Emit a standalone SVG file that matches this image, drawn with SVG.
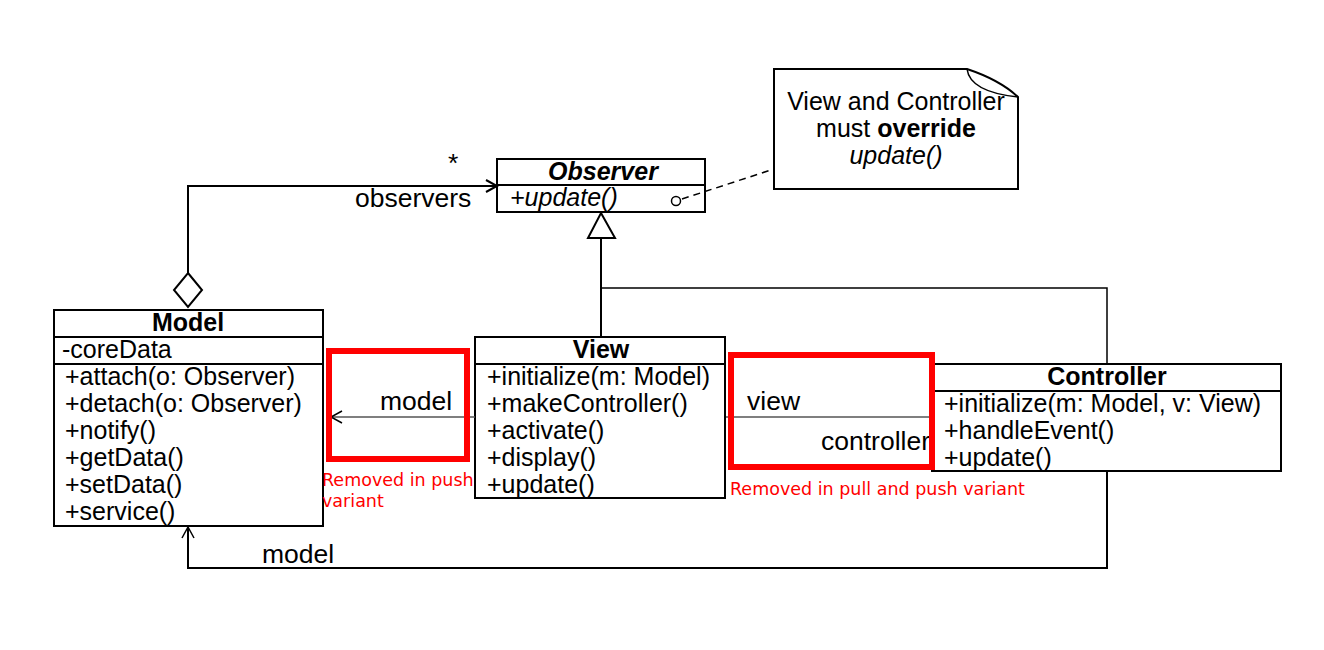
<svg xmlns="http://www.w3.org/2000/svg" width="1324" height="650" viewBox="0 0 1324 650">
<style>
.box{fill:#fff;stroke:#000;stroke-width:2}
.ln{fill:none;stroke:#000;stroke-width:2}
.thin{fill:none;stroke:#555;stroke-width:1.5}
.red{fill:none;stroke:#f00;stroke-width:6}
text{font-family:"Liberation Sans",Arial,sans-serif;fill:#000}
.m{font-size:25px}
.t{font-size:25px;font-weight:bold;text-anchor:middle}
.lb{font-size:26.5px}
.rt{font-family:"DejaVu Sans",sans-serif;font-size:17.5px;fill:#f00}
</style>
<rect width="1324" height="650" fill="#fff"/>
<g id="observer">
<rect class="box" x="497" y="159" width="208" height="53"/>
<line class="ln" x1="497" y1="185" x2="705" y2="185"/>
<text class="t" x="603" y="180" font-style="italic">Observer</text>
<text class="m" x="510" y="206" font-style="italic">+update()</text>
</g>
<g id="note">
<path class="box" d="M774,69 H967 Q1000,80 1018,97 V189 H774 Z"/>
<path class="ln" d="M967,69 Q970,92 1018,97" style="stroke-width:1.5"/>
<text class="m" x="896" y="110" text-anchor="middle">View and Controller</text>
<text class="m" x="896" y="137" text-anchor="middle">must <tspan font-weight="bold">override</tspan></text>
<text class="m" x="896" y="164" text-anchor="middle" font-style="italic">update()</text>
</g>
<g id="model">
<rect class="box" x="54" y="310" width="269" height="216"/>
<line class="ln" x1="54" y1="337" x2="323" y2="337"/>
<line class="ln" x1="54" y1="364" x2="323" y2="364"/>
<text class="t" x="188" y="331">Model</text>
<text class="m" x="62" y="358">-coreData</text>
<text class="m" x="65" y="385">+attach(o: Observer)</text>
<text class="m" x="65" y="412">+detach(o: Observer)</text>
<text class="m" x="65" y="439">+notify()</text>
<text class="m" x="65" y="466">+getData()</text>
<text class="m" x="65" y="493">+setData()</text>
<text class="m" x="65" y="520">+service()</text>
</g>
<g id="view">
<rect class="box" x="475" y="337" width="250" height="161"/>
<line class="ln" x1="475" y1="364" x2="725" y2="364"/>
<text class="t" x="601" y="358">View</text>
<text class="m" x="487" y="385">+initialize(m: Model)</text>
<text class="m" x="487" y="412">+makeController()</text>
<text class="m" x="487" y="439">+activate()</text>
<text class="m" x="487" y="466">+display()</text>
<text class="m" x="487" y="493">+update()</text>
</g>
<g id="controller">
<rect class="box" x="932" y="364" width="349" height="107"/>
<line class="ln" x1="932" y1="391" x2="1281" y2="391"/>
<text class="t" x="1107" y="385">Controller</text>
<text class="m" x="944" y="412">+initialize(m: Model, v: View)</text>
<text class="m" x="944" y="439">+handleEvent()</text>
<text class="m" x="944" y="466">+update()</text>
</g>
<g id="connectors">
<polyline class="ln" points="188,273 188,186 496,186"/>
<polyline class="ln" points="486,180 497,186 486,192"/>
<polygon class="ln" points="188,273 202,290 188,307 174,290" fill="#fff"/>
<text class="lb" x="448" y="172">*</text>
<text class="lb" x="355" y="207">observers</text>
<line class="ln" x1="601" y1="238" x2="601" y2="337"/>
<polyline class="ln" points="601,288 1107,288 1107,364" style="stroke-width:1.5"/>
<polygon class="ln" points="601,213 615,238 588,238" fill="#fff"/>
<line x1="682" y1="199" x2="774" y2="169" stroke="#000" stroke-width="1.5" stroke-dasharray="7,5"/>
<circle cx="676" cy="201" r="4.5" fill="#fff" stroke="#000" stroke-width="1.5"/>
<line class="thin" x1="475" y1="417" x2="332" y2="417"/>
<polyline class="ln" points="342,411 331,417 342,423" style="stroke-width:1.5"/>
<text class="lb" x="380" y="410">model</text>
<line class="thin" x1="726" y1="417" x2="932" y2="417"/>
<text class="lb" x="747" y="410">view</text>
<text class="lb" x="930" y="450" text-anchor="end">controller</text>
<polyline class="ln" points="1107,471 1107,568 188,568 188,527"/>
<polyline class="ln" points="182,538 188,527 194,538" style="stroke-width:1.5"/>
<text class="lb" x="262" y="563">model</text>
</g>
<g id="removed-push">
<rect class="red" x="329" y="351" width="138" height="108"/>
<text class="rt" x="322" y="486">Removed in push</text>
<text class="rt" x="322" y="507">variant</text>
</g>
<g id="removed-pull-push">
<rect class="red" x="731" y="355" width="201" height="112"/>
<text class="rt" x="730" y="495">Removed in pull and push variant</text>
</g>
</svg>
